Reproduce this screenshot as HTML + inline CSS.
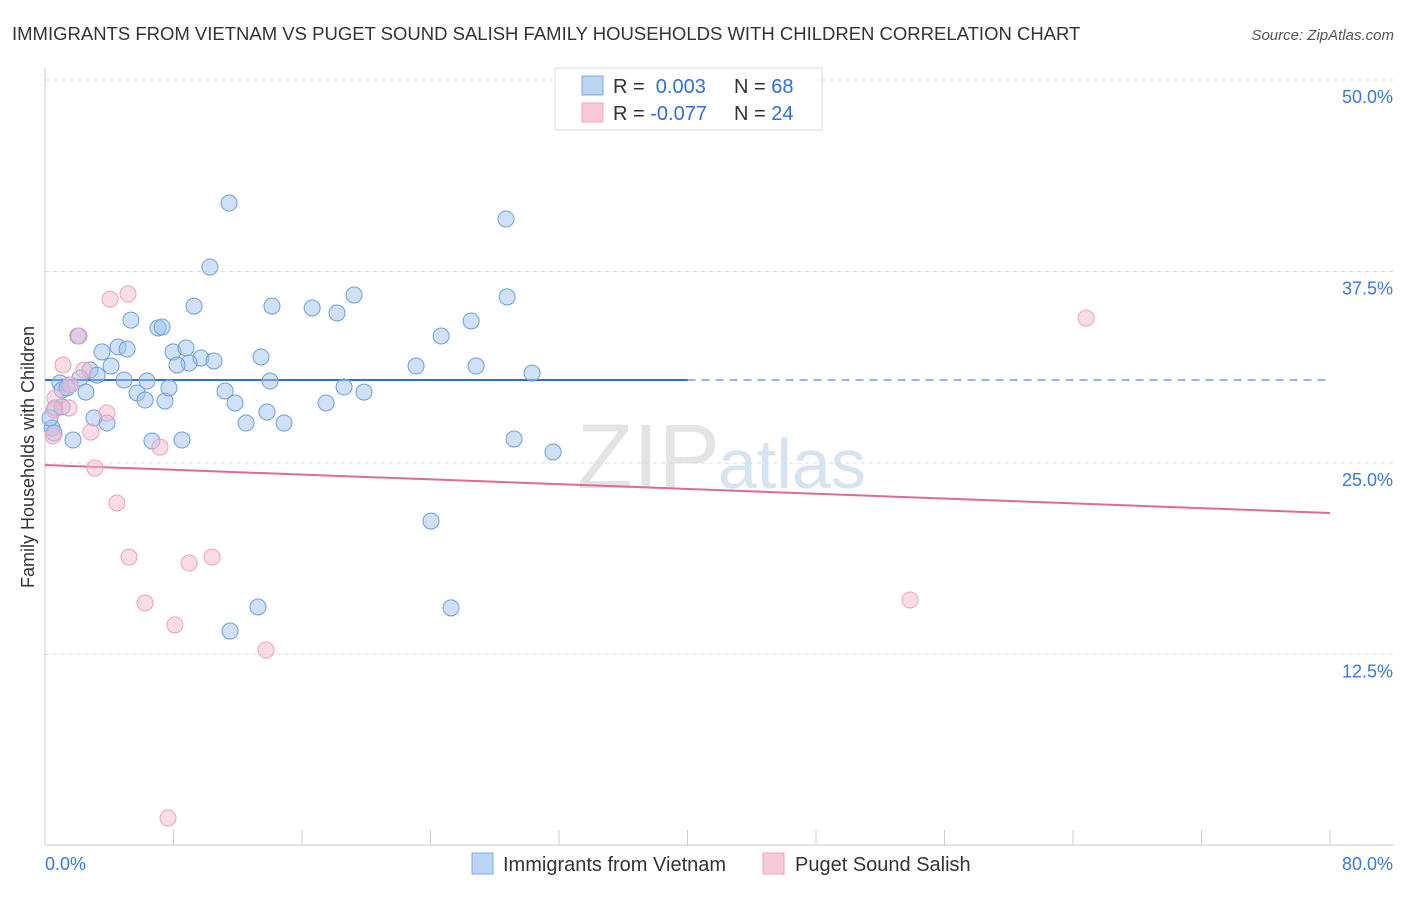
<!DOCTYPE html>
<html><head><meta charset="utf-8"><style>
body{margin:0;background:#fff;font-family:"Liberation Sans",sans-serif}
svg text{font-family:"Liberation Sans",sans-serif}
</style></head><body>
<svg id="c" width="1406" height="892">
<text x="12" y="40" font-size="18.5" fill="#333">IMMIGRANTS FROM VIETNAM VS PUGET SOUND SALISH FAMILY HOUSEHOLDS WITH CHILDREN CORRELATION CHART</text>
<text x="1394" y="40" font-size="15" fill="#555" font-style="italic" text-anchor="end">Source: ZipAtlas.com</text>
<text x="720" y="488" font-size="92" fill="#e4e4e4" text-anchor="end" font-family="Liberation Serif">ZIP</text>
<text x="718" y="488" font-size="70" fill="#d6e3f3">atlas</text>
<text transform="translate(34,457) rotate(-90)" font-size="18" fill="#333" text-anchor="middle">Family Households with Children</text>
<g id="grid"></g><g id="axes"></g><g id="lines"></g><g id="pts"></g>
<g>
<rect x="555" y="68" width="267" height="62" fill="#fff" stroke="#ddd"/>
<rect x="582" y="76" width="21" height="19" fill="#bcd4f4" stroke="#7aa7e3"/>
<rect x="582" y="103" width="21" height="19" fill="#f9c9d8" stroke="#eea2ba"/>
<text x="613" y="93" font-size="20" fill="#333">R = <tspan fill="#2f6fd6">&#160;0.003</tspan><tspan x="734">N = </tspan><tspan fill="#2f6fd6">68</tspan></text>
<text x="613" y="120" font-size="20" fill="#333">R = <tspan fill="#2f6fd6">-0.077</tspan><tspan x="734">N = </tspan><tspan fill="#2f6fd6">24</tspan></text>
</g>
<g>
<rect x="472" y="853" width="21" height="21" fill="#bcd4f4" stroke="#7aa7e3"/>
<text x="503" y="871" font-size="20" fill="#333">Immigrants from Vietnam</text>
<rect x="763" y="853" width="21" height="21" fill="#f9c9d8" stroke="#eea2ba"/>
<text x="795" y="871" font-size="20" fill="#333">Puget Sound Salish</text>
</g>
</svg>
<script>
const yTicks=[50,37.5,25,12.5];
const blueX=[11.46,28.70,10.27,9.28,14.13,16.63,19.24,18.18,28.77,5.35,7.04,7.29,2.05,24.66,26.53,3.55,4.55,5.11,7.97,8.78,13.45,9.71,8.97,10.52,8.22,4.11,2.80,23.10,26.84,30.32,0.93,2.18,3.24,4.92,6.35,14.01,1.06,2.55,5.73,6.23,7.47,7.72,11.21,18.62,19.86,11.83,17.50,0.62,3.05,3.86,12.52,13.82,14.88,0.44,0.31,6.66,8.53,1.74,29.20,31.63,24.03,13.26,25.28,11.52,0.56,1.37,1.06,1.56];
const blueY=[41.97,40.93,37.79,35.24,35.24,35.12,35.97,34.79,35.84,34.33,33.81,33.88,33.29,33.29,34.27,32.25,32.57,32.44,32.25,32.51,31.92,31.85,31.53,31.66,31.40,31.33,31.07,31.33,31.33,30.87,30.22,30.55,30.74,30.42,30.35,30.35,29.77,29.63,29.57,29.11,29.05,29.90,29.70,29.96,29.63,28.92,28.92,28.59,27.94,27.61,27.61,28.33,27.61,27.28,27.94,26.44,26.50,26.50,26.57,25.72,21.21,15.60,15.54,14.03,26.96,29.90,28.66,30.09];
const pinkX=[2.12,4.05,5.17,1.12,2.43,1.56,0.62,1.49,3.86,2.86,0.50,7.16,3.11,4.48,5.23,10.40,8.97,6.23,8.09,13.76,7.66,64.82,53.86,0.56];
const pinkY=[33.29,35.70,36.03,31.40,31.07,30.09,29.24,28.59,28.26,27.02,26.76,26.04,24.67,22.39,18.86,18.86,18.47,15.86,14.43,12.79,1.83,34.46,16.06,28.46];
const blueTrend=[30.42,30.42];
const pinkTrend=[24.87,21.74];
const X0=45,X1=1330,XMAX=80,Y0=846,PXY=15.32;
const sx=v=>X0+(v/XMAX)*(X1-X0), sy=v=>Y0-v*PXY;
const NS="http://www.w3.org/2000/svg";
function mk(p,t,a){const e=document.createElementNS(NS,t);for(const k in a)e.setAttribute(k,a[k]);p.appendChild(e);return e;}
const grid=document.getElementById('grid'),axes=document.getElementById('axes'),lines=document.getElementById('lines'),pts=document.getElementById('pts');
yTicks.forEach(v=>{
 const l=mk(grid,'line',{x1:X0,x2:1394,y1:sy(v),y2:sy(v),stroke:'#ddd','stroke-dasharray':'4,4'});
 
 
 const t=mk(grid,'text',{x:1393,y:sy(v)+23,'font-size':18,fill:'#3a78d8','text-anchor':'end'});
 t.textContent=v.toFixed(1)+'%';
 
 
});
mk(axes,'line',{x1:X0,x2:X0,y1:68,y2:845,stroke:'#ccc'});
mk(axes,'line',{x1:X0,x2:1394,y1:845,y2:845,stroke:'#ccc'});
for(let i=1;i<=10;i++){const l=mk(axes,'line',{x1:sx(i*8),x2:sx(i*8),y1:830,y2:845,stroke:'#ccc'});
 
 }
const xl=mk(axes,'text',{x:45,y:870,'font-size':18,fill:'#3a78d8'});xl.textContent='0.0%';


const xr=mk(axes,'text',{x:1393,y:870,'font-size':18,fill:'#3a78d8','text-anchor':'end'});xr.textContent='80.0%';


const bl=mk(lines,'line',{x1:sx(0),x2:sx(40),y1:sy(blueTrend[0]),y2:sy((blueTrend[0]+blueTrend[1])/2),stroke:'#2f6fd6','stroke-width':2});


const bd=mk(lines,'line',{x1:sx(40),x2:sx(80),y1:sy((blueTrend[0]+blueTrend[1])/2),y2:sy(blueTrend[1]),stroke:'#6f9ee0','stroke-width':1.5,'stroke-dasharray':'8,6'});


const pl=mk(lines,'line',{x1:sx(0),x2:sx(80),y1:sy(pinkTrend[0]),y2:sy(pinkTrend[1]),stroke:'#e06a93','stroke-width':2});


blueX.forEach((x,i)=>{const c=mk(pts,'circle',{cx:sx(x),cy:sy(blueY[i]),r:8,fill:'rgba(160,194,240,0.5)',stroke:'#6d9fe0','stroke-width':1});
 
 });
pinkX.forEach((x,i)=>{const c=mk(pts,'circle',{cx:sx(x),cy:sy(pinkY[i]),r:8,fill:'rgba(246,186,206,0.5)',stroke:'#eea2ba','stroke-width':1});
 
 });
</script>
</body></html>
